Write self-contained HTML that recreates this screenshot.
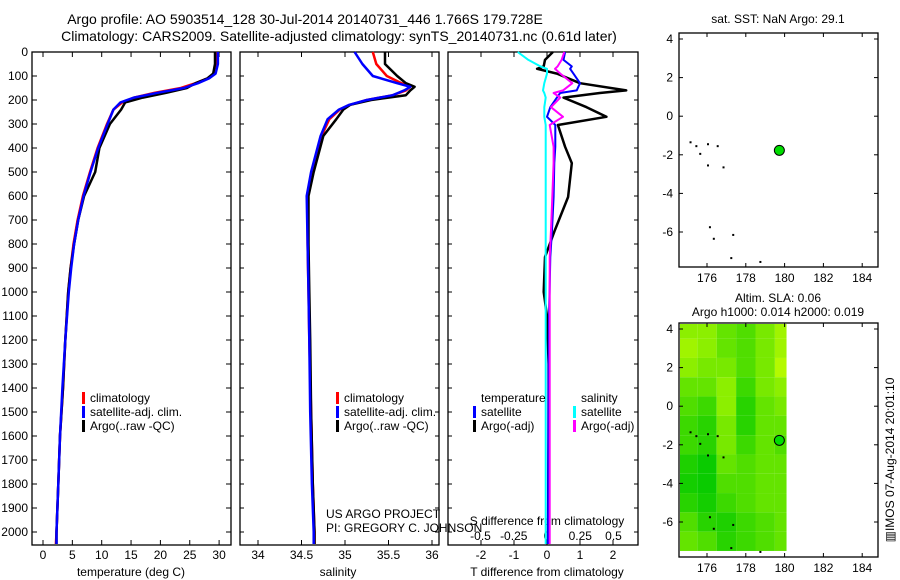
<!DOCTYPE html>
<html><head><meta charset="utf-8">
<style>
html,body{margin:0;padding:0;background:#fff;}
svg{display:block;font-family:"Liberation Sans",sans-serif;font-size:12px;}
</style></head>
<body>
<svg id="c" width="900" height="580" xmlns="http://www.w3.org/2000/svg">
<text x="305" y="24" text-anchor="middle" font-size="14">Argo profile: AO 5903514_128 30-Jul-2014 20140731_446 1.766S 179.728E</text>
<text x="339" y="41" text-anchor="middle" font-size="14">Climatology: CARS2009. Satellite-adjusted climatology: synTS_20140731.nc (0.61d later)</text>
</svg>
<script>
// ---------- data ----------
const tDepth = [0,50,90,110,130,150,170,190,210,240,300,400,500,600,700,800,900,1000,1200,1400,1600,1800,2000,2050];
const tClim  = [29.5,29.5,29.2,28,26,23.5,19,15.5,13.5,12,10.9,9.3,8.0,6.8,5.9,5.2,4.7,4.3,3.8,3.4,2.9,2.6,2.3,2.2];
const tSat   = [29.8,29.8,29.4,28.3,26.4,24,19.5,15.5,13.2,12,11,9.4,8.1,6.9,6.0,5.3,4.8,4.4,3.8,3.3,2.9,2.6,2.3,2.3];
const tArgo  = [29.3,29.3,29.0,28,26,24.5,21,17,14,13.3,11.4,9.6,8.9,7.0,6.0,5.3,4.7,4.3,3.8,3.4,2.9,2.6,2.3,2.3];
const sDepth = [0,50,100,130,145,160,180,200,220,240,280,350,500,600,800,1000,1200,1500,1800,2000,2050];
const sClim  = [35.32,35.36,35.48,35.65,35.75,35.7,35.55,35.25,35.06,34.94,34.82,34.73,34.62,34.57,34.57,34.58,34.59,34.61,34.63,34.65,34.65];
const sSat   = [35.11,35.2,35.32,35.6,35.75,35.68,35.55,35.25,35.05,34.93,34.8,34.72,34.61,34.56,34.57,34.58,34.59,34.6,34.62,34.64,34.64];
const sArgo  = [35.46,35.46,35.6,35.7,35.8,35.75,35.7,35.3,35.06,34.98,34.9,34.75,34.64,34.58,34.58,34.59,34.6,34.61,34.63,34.65,34.65];
const dDepth = [0,33,60,70,90,130,160,171,190,230,270,304,395,463,604,742,854,1000,1100,1300,1600,2050];
const dTArgo = [0.18,-0.06,-0.1,-0.3,0.3,1.0,2.4,1.6,0.5,1.2,1.8,0.33,0.55,0.75,0.64,0.24,-0.06,-0.1,0.0,0.05,0.05,0.03];
const dTSat  = [0.55,0.5,0.75,0.7,0.8,1.0,0.9,0.4,0.3,0.1,0.0,0.25,0.25,0.22,0.2,0.15,0.1,0.08,0.06,0.05,0.04,0.03];
const dSSat  = [-0.22,-0.14,-0.05,0.0,0.0,-0.02,-0.03,-0.02,-0.01,-0.02,-0.02,-0.01,-0.01,-0.01,-0.01,-0.01,-0.01,-0.01,-0.01,-0.01,-0.01,-0.01];
const dSArgo = [0.13,0.11,0.08,0.06,0.1,0.19,0.12,0.05,0.1,0.03,0.12,0.02,0.05,0.05,0.04,0.03,0.02,0.02,0.02,0.02,0.02,0.02];
const depthTicks = [0,100,200,300,400,500,600,700,800,900,1000,1100,1200,1300,1400,1500,1600,1700,1800,1900,2000];
const tTicks = [0,5,10,15,20,25,30];
const sTicks = [34,34.5,35,35.5,36];
const dTTicks = [-2,-1,0,1,2];
const dSTicks = [-0.5,-0.25,0,0.25,0.5];
const lonTicks = [176,178,180,182,184];
const latTicks = [4,2,0,-2,-4,-6];
const slaLats = [4,3,2,1,0,-1,-2,-3,-4,-5,-6,-7];
const slaLons = [175,176,177,178,179,180];
const slaVals = [
[0.7,0.7,0.5,0.4,0.6,0.8],[0.8,0.7,0.5,0.4,0.6,0.8],[0.7,0.6,0.6,0.4,0.6,0.9],[0.5,0.5,0.7,0.3,0.6,0.7],
[0.4,0.3,0.7,0.2,0.5,0.6],[0.3,0.2,0.6,0.2,0.5,0.5],[0.3,0.2,0.6,0.3,0.5,0.4],[0.15,0.05,0.5,0.4,0.5,0.5],
[0.1,0.05,0.4,0.4,0.5,0.5],[0.2,0.1,0.3,0.4,0.5,0.5],[0.4,0.2,0.15,0.3,0.4,0.5],[0.5,0.4,0.2,0.3,0.4,0.5]];
const islandLon = [175.1,175.4,175.6,176.0,176.5,176.0,176.8,176.1,176.3,177.3,177.2,178.7];
const islandLat = [-1.3,-1.5,-1.9,-1.4,-1.5,-2.5,-2.6,-5.7,-6.3,-6.1,-7.3,-7.5];
const argoLon = 179.73, argoLat = -1.77;

// ---------- helpers ----------
const svg = document.getElementById('c');
const NS = 'http://www.w3.org/2000/svg';
function mk(tag, attrs, parent){ const e=document.createElementNS(NS,tag); for(const k in attrs) e.setAttribute(k,attrs[k]); (parent||svg).appendChild(e); return e; }
function txt(x,y,s,anchor,name,extra){ const e=mk('text',Object.assign({x:x,y:y,'text-anchor':anchor||'middle'},extra||{})); e.textContent=s;
  
  
  return e; }
const top0=52, pxPerM=0.24;
const yD = d => top0 + d*pxPerM;
const xT = t => 43 + t*5.87;
const xS = s => 258 + (s-34)*87;
const xDT = t => 547 + t*33;
const xDS = s => 547 + s*133;

function frame(x0,x1,y0,y1,name){
  const r = mk('rect',{x:x0,y:y0,width:x1-x0,height:y1-y0,fill:'none',stroke:'#000','stroke-width':1.3});
  
  
}
function line(depths, vals, xf, color, name, w){
  const pts = depths.map((d,i)=>xf(vals[i]).toFixed(1)+','+yD(d).toFixed(1)).join(' ');
  const p = mk('polyline',{points:pts,fill:'none',stroke:color,'stroke-width':w||2.5,'stroke-linejoin':'round'});
  
  
}
const B=545;
frame(32,231,top0,B,'temperature-panel');
frame(240,439,top0,B,'salinity-panel');
frame(448,638,top0,B,'difference-panel');
depthTicks.forEach(d=>{
  const y=yD(d);
  mk('line',{x1:32,x2:37,y1:y,y2:y,stroke:'#000'});
  mk('line',{x1:226,x2:231,y1:y,y2:y,stroke:'#000'});
  mk('line',{x1:240,x2:244,y1:y,y2:y,stroke:'#000'});
  mk('line',{x1:435,x2:439,y1:y,y2:y,stroke:'#000'});
  mk('line',{x1:448,x2:452,y1:y,y2:y,stroke:'#000'});
  mk('line',{x1:634,x2:638,y1:y,y2:y,stroke:'#000'});
  txt(28,y+4,String(d),'end','depth-tick-label');
});
tTicks.forEach(t=>{ const x=xT(t);
  mk('line',{x1:x,x2:x,y1:top0,y2:top0+5,stroke:'#000'}); mk('line',{x1:x,x2:x,y1:B-5,y2:B,stroke:'#000'});
  txt(x,559,String(t),'middle','temperature-tick-label'); });
sTicks.forEach(s=>{ const x=xS(s);
  mk('line',{x1:x,x2:x,y1:top0,y2:top0+5,stroke:'#000'}); mk('line',{x1:x,x2:x,y1:B-5,y2:B,stroke:'#000'});
  txt(x,559,String(s),'middle','salinity-tick-label'); });
dTTicks.forEach(t=>{ const x=xDT(t);
  mk('line',{x1:x,x2:x,y1:top0,y2:top0+5,stroke:'#000'}); mk('line',{x1:x,x2:x,y1:B-5,y2:B,stroke:'#000'});
  txt(x,559,String(t),'middle','t-diff-tick-label'); });
dSTicks.forEach(s=>{ const x=xDS(s);
  txt(x,540,String(s),'middle','s-diff-tick-label'); });
txt(131,576,'temperature (deg C)','middle','temperature-axis-title');
txt(338,576,'salinity','middle','salinity-axis-title');
txt(547,576,'T difference from climatology','middle','t-diff-axis-title');
txt(547,525,'S difference from climatology','middle','s-diff-axis-title');
txt(326,518,'US ARGO PROJECT','start','credit-project');
txt(326,532,'PI: GREGORY C. JOHNSON','start','credit-pi');

line(tDepth,tClim,xT,'#ff0000','temperature-climatology-line');
line(tDepth,tArgo,xT,'#000000','temperature-argo-line');
line(tDepth,tSat,xT,'#0000ff','temperature-satellite-line');
line(sDepth,sClim,xS,'#ff0000','salinity-climatology-line');
line(sDepth,sArgo,xS,'#000000','salinity-argo-line');
line(sDepth,sSat,xS,'#0000ff','salinity-satellite-line');
line(dDepth,dTArgo,xDT,'#000000','t-diff-argo-line',2.5);
line(dDepth,dTSat,xDT,'#0000ff','t-diff-satellite-line',2);
line(dDepth,dSArgo,xDS,'#ff00ff','s-diff-argo-line',2);
line(dDepth,dSSat,xDS,'#00ffff','s-diff-satellite-line',2);

function legend(x,y,color,label,name){
  const r=mk('rect',{x:x,y:y-10,width:3,height:12,fill:color});
  
  
  txt(x+8,y,label,'start',name);
}
legend(82,402,'#ff0000','climatology','legend-climatology');
legend(82,416,'#0000ff','satellite-adj. clim.','legend-satellite-adj');
legend(82,430,'#000000','Argo(..raw -QC)','legend-argo');
legend(336,402,'#ff0000','climatology','legend-climatology-2');
legend(336,416,'#0000ff','satellite-adj. clim.','legend-satellite-adj-2');
legend(336,430,'#000000','Argo(..raw -QC)','legend-argo-2');
txt(481,402,'temperature','start','legend-temperature-header');
txt(581,402,'salinity','start','legend-salinity-header');
legend(473,416,'#0000ff','satellite','legend-t-satellite');
legend(473,430,'#000000','Argo(-adj)','legend-t-argo');
legend(573,416,'#00ffff','satellite','legend-s-satellite');
legend(573,430,'#ff00ff','Argo(-adj)','legend-s-argo');

function mapPanel(y0,name,withSla){
  const X0=679,X1=878,Y1=y0+234;
  const xL = lon => 707 + (lon-176)*19.4;
  const yL = lat => (y0+6) + (4-lat)*19.3;
  if(withSla){
    slaLats.forEach((lat,i)=>slaLons.forEach((lon,j)=>{
      const v=slaVals[i][j];
      const col='rgb('+Math.round(200*v)+','+Math.round(200+55*v)+',0)';
      const xa=Math.max(X0+1,xL(lon-0.5)), xb=Math.min(xL(180.1),xL(lon+0.5));
      const ya=Math.max(y0+1,yL(lat+0.5)), yb=Math.min(Y1-2,yL(lat-0.5));
      const c=mk('rect',{x:xa,y:ya,width:xb-xa,height:yb-ya,fill:col});
      
      
    }));
  }
  frame(X0,X1,y0,Y1,name);
  lonTicks.forEach(l=>{ const x=xL(l);
    mk('line',{x1:x,x2:x,y1:y0,y2:y0+4,stroke:'#000'}); mk('line',{x1:x,x2:x,y1:Y1-4,y2:Y1,stroke:'#000'});
    txt(x,Y1+15,String(l),'middle','lon-tick-label'); });
  latTicks.forEach(l=>{ const y=yL(l);
    mk('line',{x1:X0,x2:X0+4,y1:y,y2:y,stroke:'#000'}); mk('line',{x1:X1-4,x2:X1,y1:y,y2:y,stroke:'#000'});
    txt(X0-6,y+4,String(l),'end','lat-tick-label'); });
  islandLon.forEach((lo,i)=>{
    const d=mk('rect',{x:xL(lo),y:yL(islandLat[i]),width:2,height:2,fill:'#000'});
    
    
  });
  const m=mk('circle',{cx:xL(argoLon),cy:yL(argoLat),r:5,fill:'#00dd00',stroke:'#000','stroke-width':1});
  
  
}
mapPanel(33,'sst-map',false);
mapPanel(323,'sla-map',true);
txt(778,23,'sat. SST: NaN Argo: 29.1','middle','sst-map-title');
txt(778,302,'Altim. SLA: 0.06','middle','sla-map-title');
txt(778,316,'Argo h1000: 0.014 h2000: 0.019','middle','sla-map-subtitle');
txt(0,0,'\u25A5IMOS 07-Aug-2014 20:01:10','middle','imos-timestamp',{transform:'translate(894,460) rotate(-90)'});
</script>
</body></html>
